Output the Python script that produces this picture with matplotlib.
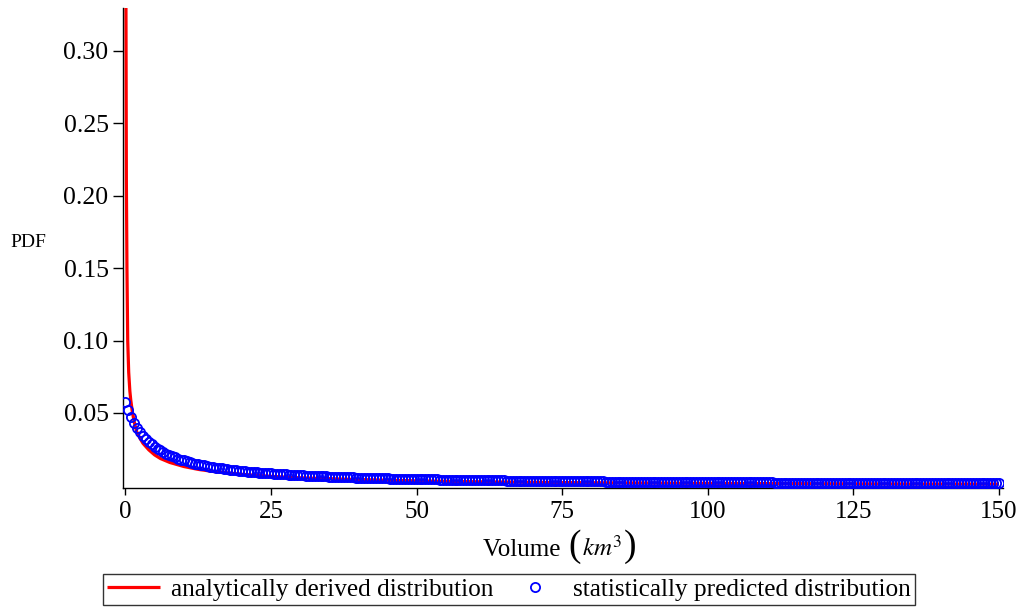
import matplotlib
matplotlib.use("Agg")
import matplotlib.pyplot as plt
import numpy as np
from matplotlib.offsetbox import TextArea, HPacker, AnchoredOffsetbox

plt.rcParams['font.family'] = ['Liberation Serif', 'DejaVu Serif']
plt.rcParams['mathtext.fontset'] = 'stix'

# ---- data ----
# analytic curve (red line)
analytic_x = [0.03, 0.08, 0.15, 0.25, 0.38, 0.55, 0.75, 0.9, 1.2, 1.6, 2.0, 3.0, 4.0,
              5.0, 6.0, 7.6, 10.0, 12.5, 15.0, 20.0, 25.0, 30.0, 40.0, 50.0, 60.0,
              75.0, 90.0, 100.0, 120.0, 135.0, 150.0]
analytic_pdf = [0.50, 0.33, 0.21, 0.15, 0.10, 0.078, 0.065, 0.059, 0.050, 0.042, 0.036,
                0.029, 0.0245, 0.0210, 0.0185, 0.0158, 0.0130, 0.0110, 0.0096, 0.0076,
                0.0062, 0.0052, 0.0040, 0.0031, 0.0025, 0.0019, 0.0016, 0.0014,
                0.0011, 0.00097, 0.00088]

# statistically predicted values (blue circles), x = 0, 0.5, 1, ..., 150
stat_x_start = 0.0
stat_x_step = 0.5
stat_pdf = [
    0.05780, 0.05188, 0.04704, 0.04298, 0.03958, 0.03665, 0.03412, 0.03190, 0.02995, 0.02823,
    0.02669, 0.02532, 0.02407, 0.02293, 0.02190, 0.02093, 0.02007, 0.01927, 0.01852, 0.01783,
    0.01719, 0.01660, 0.01604, 0.01552, 0.01502, 0.01456, 0.01413, 0.01372, 0.01333, 0.01296,
    0.01262, 0.01229, 0.01198, 0.01168, 0.01139, 0.01112, 0.01086, 0.01061, 0.01038, 0.01016,
    0.00994, 0.00973, 0.00953, 0.00934, 0.00916, 0.00898, 0.00881, 0.00864, 0.00849, 0.00833,
    0.00819, 0.00804, 0.00791, 0.00777, 0.00765, 0.00752, 0.00740, 0.00728, 0.00717, 0.00706,
    0.00695, 0.00685, 0.00674, 0.00665, 0.00655, 0.00646, 0.00637, 0.00628, 0.00620, 0.00612,
    0.00603, 0.00595, 0.00588, 0.00580, 0.00573, 0.00566, 0.00559, 0.00552, 0.00545, 0.00539,
    0.00533, 0.00526, 0.00520, 0.00515, 0.00509, 0.00503, 0.00497, 0.00492, 0.00487, 0.00482,
    0.00476, 0.00471, 0.00467, 0.00462, 0.00457, 0.00453, 0.00448, 0.00444, 0.00439, 0.00435,
    0.00431, 0.00427, 0.00423, 0.00419, 0.00415, 0.00411, 0.00407, 0.00404, 0.00400, 0.00396,
    0.00393, 0.00389, 0.00386, 0.00382, 0.00379, 0.00376, 0.00373, 0.00370, 0.00367, 0.00364,
    0.00361, 0.00358, 0.00355, 0.00352, 0.00349, 0.00347, 0.00344, 0.00341, 0.00339, 0.00336,
    0.00334, 0.00331, 0.00329, 0.00326, 0.00324, 0.00321, 0.00319, 0.00317, 0.00315, 0.00312,
    0.00310, 0.00308, 0.00306, 0.00304, 0.00302, 0.00300, 0.00298, 0.00296, 0.00294, 0.00292,
    0.00290, 0.00288, 0.00286, 0.00284, 0.00282, 0.00280, 0.00279, 0.00277, 0.00275, 0.00273,
    0.00272, 0.00270, 0.00268, 0.00267, 0.00265, 0.00264, 0.00262, 0.00260, 0.00259, 0.00257,
    0.00256, 0.00254, 0.00253, 0.00251, 0.00250, 0.00249, 0.00247, 0.00246, 0.00244, 0.00243,
    0.00242, 0.00240, 0.00239, 0.00238, 0.00236, 0.00235, 0.00234, 0.00233, 0.00231, 0.00230,
    0.00229, 0.00228, 0.00227, 0.00225, 0.00224, 0.00223, 0.00222, 0.00221, 0.00220, 0.00219,
    0.00218, 0.00216, 0.00215, 0.00214, 0.00213, 0.00212, 0.00211, 0.00210, 0.00209, 0.00208,
    0.00207, 0.00206, 0.00205, 0.00204, 0.00203, 0.00202, 0.00201, 0.00200, 0.00199, 0.00199,
    0.00198, 0.00197, 0.00196, 0.00195, 0.00194, 0.00193, 0.00192, 0.00191, 0.00191, 0.00190,
    0.00189, 0.00188, 0.00187, 0.00186, 0.00186, 0.00185, 0.00184, 0.00183, 0.00183, 0.00182,
    0.00181, 0.00180, 0.00179, 0.00179, 0.00178, 0.00177, 0.00176, 0.00176, 0.00175, 0.00174,
    0.00174, 0.00173, 0.00172, 0.00172, 0.00171, 0.00170, 0.00170, 0.00169, 0.00168, 0.00167,
    0.00167, 0.00166, 0.00166, 0.00165, 0.00164, 0.00164, 0.00163, 0.00162, 0.00162, 0.00161,
    0.00161, 0.00160, 0.00159, 0.00159, 0.00158, 0.00158, 0.00157, 0.00156, 0.00156, 0.00155,
    0.00155, 0.00154, 0.00154, 0.00153, 0.00153, 0.00152, 0.00151, 0.00151, 0.00150, 0.00150,
    0.00149, 0.00149, 0.00148, 0.00148, 0.00147, 0.00147, 0.00146, 0.00146, 0.00145, 0.00145,
    0.00144,
]

x_ticks = [0, 25, 50, 75, 100, 125, 150]
y_ticks = [0.05, 0.10, 0.15, 0.20, 0.25, 0.30]

labels = ["analytically derived distribution", "statistically predicted distribution"]

# ---- figure ----
fig = plt.figure(figsize=(10.23, 6.10), dpi=100)
ax = fig.add_axes([122.5 / 1023, 1 - 487.5 / 610, (1003 - 122.5) / 1023, (487.5 - 8) / 610])

stat_x = stat_x_start + stat_x_step * np.arange(len(stat_pdf))

ax.plot(analytic_x, analytic_pdf, color='#ff0000', lw=2.3, zorder=2,
        label=labels[0], solid_capstyle='butt')
ax.plot(stat_x, stat_pdf, linestyle='none', marker='o', markersize=6.6,
        markerfacecolor='none', markeredgecolor='#0000ff', markeredgewidth=1.3,
        zorder=3, label=labels[1])

ax.set_xlim(-0.515, 150.69)
ax.set_ylim(-0.0015, 0.3296)

for s in ['top', 'right']:
    ax.spines[s].set_visible(False)
for s in ['left', 'bottom']:
    ax.spines[s].set_linewidth(1.0)
    ax.spines[s].set_color('black')

ax.set_xticks(x_ticks)
ax.set_xticklabels([str(v) for v in x_ticks])
ax.set_yticks(y_ticks)
ax.set_yticklabels([f"{v:.2f}" for v in y_ticks])
ax.tick_params(axis='x', direction='out', length=5, width=1.0, labelsize=18, pad=5)
ax.tick_params(axis='y', direction='out', length=7, width=1.0, labelsize=18.5, pad=3)

# x-axis label with tall parentheses, built from text pieces
parts = [
    TextArea("Volume ", textprops=dict(fontsize=18)),
    TextArea("(", textprops=dict(fontsize=27)),
    TextArea(r"$km^{3}$", textprops=dict(fontsize=18)),
    TextArea(")", textprops=dict(fontsize=27)),
]
xlabel_box = HPacker(children=parts, align="baseline", pad=0, sep=1)
anch = AnchoredOffsetbox(loc='center', child=xlabel_box, pad=0, frameon=False,
                         bbox_to_anchor=(560 / 1023, 1 - 547 / 610),
                         bbox_transform=fig.transFigure, borderpad=0)
fig.add_artist(anch)

fig.text(10 / 1023, 1 - 243 / 610, 'PDF', fontsize=14, ha='left', va='center')

leg = fig.legend(loc='lower center', bbox_to_anchor=(509 / 1023, 5 / 610), ncol=2,
                 fontsize=18.2, frameon=True, fancybox=False, edgecolor='black',
                 handlelength=2.1, handletextpad=0.45, columnspacing=0.6,
                 borderpad=0.17, borderaxespad=0.0, markerscale=1.0)
leg.get_frame().set_linewidth(1.0)

fig.savefig('out.png', dpi=100)
